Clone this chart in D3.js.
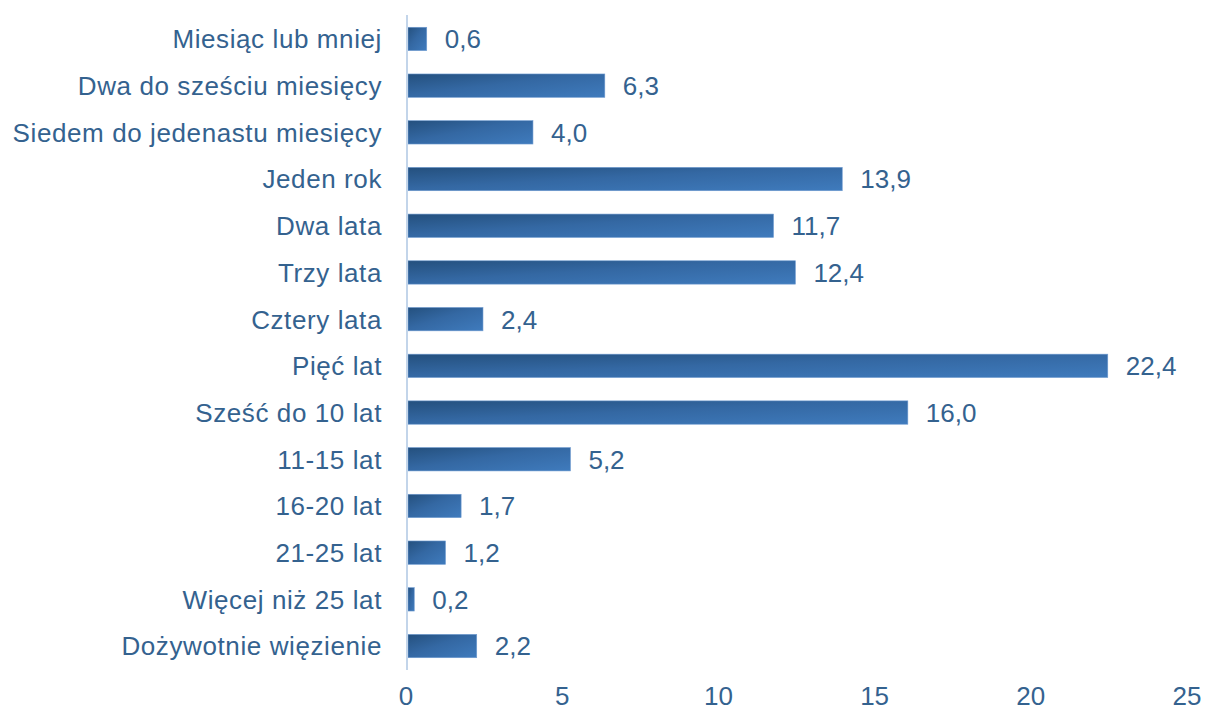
<!DOCTYPE html>
<html lang="pl">
<head>
<meta charset="UTF-8">
<title>Wyroki</title>
<script src="https://d3js.org/d3.v7.min.js"></script>
<style>
    body { margin: 0; background: #fff; }
    text {
        font-family: "Liberation Sans", Arial, sans-serif;
        font-size: 26px;
        fill: #34628f;
    }
    .cat { letter-spacing: 0.6px; }
</style>
</head>
<body>
<svg width="1207" height="713"></svg>
<script>
    // Data
    const categories = [
        "Miesiąc lub mniej",
        "Dwa do sześciu miesięcy",
        "Siedem do jedenastu miesięcy",
        "Jeden rok",
        "Dwa lata",
        "Trzy lata",
        "Cztery lata",
        "Pięć lat",
        "Sześć do 10 lat",
        "11-15 lat",
        "16-20 lat",
        "21-25 lat",
        "Więcej niż 25 lat",
        "Dożywotnie więzienie"
    ];
    const values = [0.6, 6.3, 4.0, 13.9, 11.7, 12.4, 2.4, 22.4, 16.0, 5.2, 1.7, 1.2, 0.2, 2.2];
    const ticks = [0, 5, 10, 15, 20, 25];

    const svg = d3.select("svg");

    const x = d3.scaleLinear().domain([0, 25]).range([408, 1189]);
    const y = d3.scaleBand()
        .domain(categories)
        .range([15.6, 669.4])
        .paddingInner(0.5)
        .paddingOuter(0.25);

    // gradient for bars
    const grad = svg.append("defs").append("linearGradient")
        .attr("id", "barGrad")
        .attr("x1", 0).attr("y1", 0)
        .attr("x2", 1).attr("y2", 1);
    grad.append("stop").attr("offset", "0%").attr("stop-color", "#24507e");
    grad.append("stop").attr("offset", "45%").attr("stop-color", "#3468a3");
    grad.append("stop").attr("offset", "100%").attr("stop-color", "#3f7bbd");

    // bars
    svg.append("g")
        .selectAll("rect")
        .data(values)
        .join("rect")
        .attr("x", x(0))
        .attr("y", (d, i) => y(categories[i]))
        .attr("width", d => x(d) - x(0))
        .attr("height", y.bandwidth())
        .attr("fill", "url(#barGrad)")
        .attr("stroke", "#6f9bd0")
        .attr("stroke-width", 0.6);

    // vertical axis line
    svg.append("line")
        .attr("x1", x(0) - 1).attr("x2", x(0) - 1)
        .attr("y1", 15).attr("y2", 670)
        .attr("stroke", "#c3d5ea")
        .attr("stroke-width", 2);

    // category labels
    svg.append("g")
        .selectAll("text")
        .data(categories)
        .join("text")
        .attr("class", "cat")
        .attr("x", 382)
        .attr("y", d => y(d) + y.bandwidth() / 2)
        .attr("dy", "0.36em")
        .attr("text-anchor", "end")
        .text(d => d);

    // value labels
    svg.append("g")
        .selectAll("text")
        .data(values)
        .join("text")
        .attr("x", d => x(d) + 18)
        .attr("y", (d, i) => y(categories[i]) + y.bandwidth() / 2)
        .attr("dy", "0.36em")
        .text(d => d.toFixed(1).replace(".", ","));

    // x tick labels
    svg.append("g")
        .selectAll("text")
        .data(ticks)
        .join("text")
        .attr("x", d => x(d) - 2)
        .attr("y", 696)
        .attr("dy", "0.36em")
        .attr("text-anchor", "middle")
        .text(d => d);
</script>
</body>
</html>
